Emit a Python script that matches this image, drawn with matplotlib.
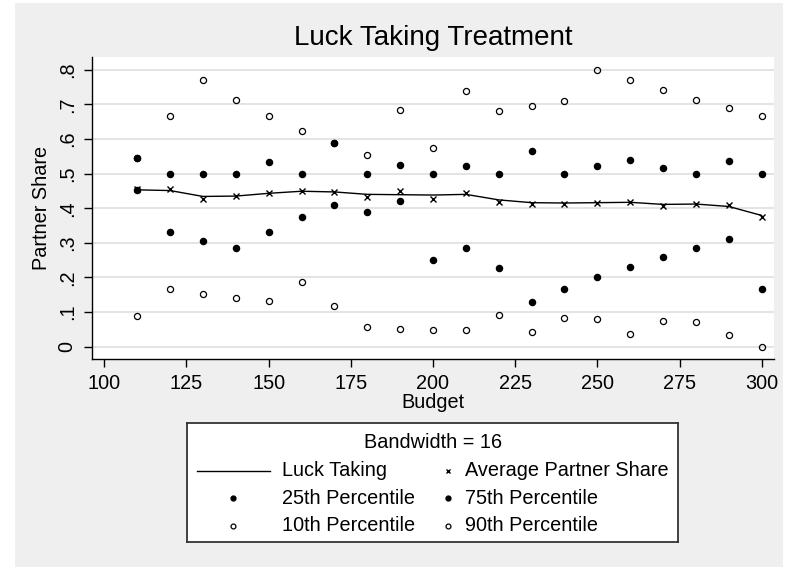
import matplotlib
matplotlib.use("Agg")
import matplotlib.pyplot as plt
from matplotlib.patches import Rectangle

plt.rcParams['font.family'] = ['Liberation Sans', 'DejaVu Sans']

budget = [110, 120, 130, 140, 150, 160, 170, 180, 190, 200,
          210, 220, 230, 240, 250, 260, 270, 280, 290, 300]
luck_taking = [0.453, 0.451, 0.434, 0.435, 0.443, 0.449, 0.447, 0.440, 0.439, 0.438,
               0.440, 0.424, 0.416, 0.415, 0.416, 0.417, 0.411, 0.412, 0.405, 0.379]
avg_share = [0.455, 0.456, 0.428, 0.434, 0.443, 0.449, 0.448, 0.432, 0.450, 0.426,
             0.445, 0.419, 0.413, 0.411, 0.416, 0.419, 0.407, 0.412, 0.410, 0.376]
p25 = [0.453, 0.332, 0.306, 0.284, 0.332, 0.375, 0.410, 0.388, 0.420, 0.250,
       0.285, 0.226, 0.129, 0.166, 0.200, 0.231, 0.259, 0.285, 0.310, 0.167]
p75 = [0.545, 0.500, 0.500, 0.500, 0.533, 0.500, 0.588, 0.500, 0.526, 0.500,
       0.523, 0.500, 0.565, 0.500, 0.521, 0.539, 0.517, 0.500, 0.535, 0.500]
p10 = [0.090, 0.166, 0.153, 0.142, 0.133, 0.188, 0.118, 0.056, 0.052, 0.049,
       0.047, 0.091, 0.043, 0.083, 0.080, 0.038, 0.073, 0.071, 0.034, 0.000]
p90 = [0.545, 0.665, 0.769, 0.713, 0.665, 0.624, 0.588, 0.555, 0.684, 0.575,
       0.738, 0.682, 0.696, 0.709, 0.799, 0.769, 0.740, 0.713, 0.690, 0.666]

xticks = [100, 125, 150, 175, 200, 225, 250, 275, 300]
yticks = [0, 0.1, 0.2, 0.3, 0.4, 0.5, 0.6, 0.7, 0.8]
ytick_labels = ["0", ".1", ".2", ".3", ".4", ".5", ".6", ".7", ".8"]

FS = 14.3
W, H = 785, 567
fig = plt.figure(figsize=(W / 100, H / 100), dpi=100)
fig.patch.set_facecolor("white")
fig.patches.append(Rectangle((15 / W, 0), (783 - 15) / W, (567 - 3) / H,
                             transform=fig.transFigure, facecolor="#efefef",
                             edgecolor="none", zorder=-10))

ax = fig.add_axes([92 / W, (H - 359) / H, (774 - 92) / W, (359 - 57) / H])
ax.set_facecolor("white")
ax.set_xlim(96.26, 303.74)
ax.set_ylim(-0.0355, 0.8367)

for s in ["top", "right"]:
    ax.spines[s].set_visible(False)
for s in ["left", "bottom"]:
    ax.spines[s].set_linewidth(1.0)
    ax.spines[s].set_color("black")

ax.set_yticks(yticks)
ax.set_yticklabels(ytick_labels, rotation=90, va="center")
ax.set_xticks(xticks)
ax.tick_params(axis="both", direction="out", length=6, width=1, labelsize=FS, colors="black")
ax.tick_params(axis="y", pad=5)
ax.tick_params(axis="x", pad=5)
ax.grid(axis="y", color="#e4e4e4", linewidth=1.4)
ax.set_axisbelow(True)

ms = 4.4
ax.plot(budget, luck_taking, color="black", linewidth=1.0, zorder=3)
ax.plot(budget, avg_share, linestyle="none", marker="x", color="black",
        markersize=4.5, markeredgewidth=1.0, zorder=4)
ax.plot(budget, p25, linestyle="none", marker="o", color="black",
        markersize=ms, zorder=4)
ax.plot(budget, p75, linestyle="none", marker="o", color="black",
        markersize=ms, zorder=4)
ax.plot(budget, p10, linestyle="none", marker="o", markerfacecolor="none",
        markeredgecolor="black", markersize=ms, markeredgewidth=0.9, zorder=4)
ax.plot(budget, p90, linestyle="none", marker="o", markerfacecolor="none",
        markeredgecolor="black", markersize=ms, markeredgewidth=0.9, zorder=4)

ax.set_ylabel("Partner Share", fontsize=FS, labelpad=5)
ax.set_xlabel("Budget", fontsize=FS, labelpad=0)

fig.text(433 / W, 1 - 38 / H, "Luck Taking Treatment", fontsize=20,
         ha="center", va="center")

# Legend box
lx0, lx1, ly0, ly1 = 187.3, 677.7, 423.3, 542.3
lax = fig.add_axes([lx0 / W, (H - ly1) / H, (lx1 - lx0) / W, (ly1 - ly0) / H])
lax.set_xlim(lx0, lx1)
lax.set_ylim(ly1, ly0)
lax.set_xticks([])
lax.set_yticks([])
lax.set_facecolor("white")
for s in lax.spines.values():
    s.set_color("#333333")
    s.set_linewidth(1.3)

lax.text(433.3, 442.7, "Bandwidth = 16", fontsize=FS, ha="center", va="center")
rows = [471, 498.3, 526]
c1_label, c2_marker, c2_label = 281.7, 447.7, 465
lax.plot([196.7, 270], [rows[0], rows[0]], color="black", linewidth=1.0)
lax.plot([233.3], [rows[1]], marker="o", color="black", markersize=3.5, linestyle="none")
lax.plot([233.3], [rows[2]], marker="o", markerfacecolor="none", markeredgecolor="black",
         markersize=3.5, markeredgewidth=0.9, linestyle="none")
lax.plot([c2_marker], [rows[0]], marker="x", color="black", markersize=3.5,
         markeredgewidth=1.0, linestyle="none")
lax.plot([c2_marker], [rows[1]], marker="o", color="black", markersize=3.5, linestyle="none")
lax.plot([c2_marker], [rows[2]], marker="o", markerfacecolor="none", markeredgecolor="black",
         markersize=3.5, markeredgewidth=0.9, linestyle="none")
labels1 = ["Luck Taking", "25th Percentile", "10th Percentile"]
labels2 = ["Average Partner Share", "75th Percentile", "90th Percentile"]
for r, t in zip(rows, labels1):
    lax.text(c1_label, r, t, fontsize=FS, ha="left", va="center")
for r, t in zip(rows, labels2):
    lax.text(c2_label, r, t, fontsize=FS, ha="left", va="center")

fig.savefig("out.png", dpi=100, facecolor=fig.get_facecolor())
